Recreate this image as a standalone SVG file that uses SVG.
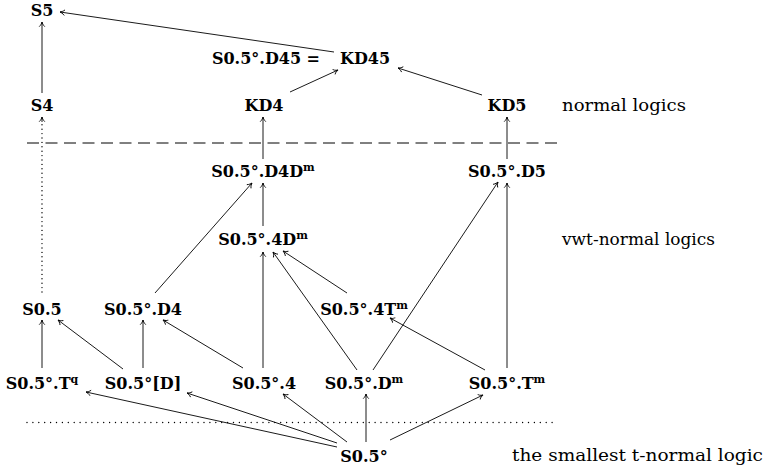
<svg xmlns="http://www.w3.org/2000/svg" width="767" height="471" viewBox="0 0 767 471">
<defs>
<marker id="ah" markerUnits="userSpaceOnUse" markerWidth="10" markerHeight="10" viewBox="-6 -5 8 10" refX="0" refY="0" orient="auto">
<path d="M-4.4,-2.5 C-3.1,-1.1 -1.2,-0.3 0,0 C-1.2,0.3 -3.1,1.1 -4.4,2.5" fill="none" stroke="#000" stroke-width="0.9" stroke-linecap="round"/>
</marker>
<style>
.n{font-family:"DejaVu Serif",serif;font-weight:bold;font-size:16px;fill:#000;text-anchor:middle}
.l{font-family:"DejaVu Serif",serif;font-size:17px;fill:#000}
.sup{font-size:11px}
.e{stroke:#000;stroke-width:0.9;fill:none;marker-end:url(#ah)}
.dot{stroke:#000;stroke-width:1.4;fill:none;stroke-linecap:round}
</style>
</defs>
<rect width="767" height="471" fill="#fff"/>

<g id="separators">
<line x1="27" y1="143" x2="562" y2="143" stroke="#000" stroke-width="1" stroke-dasharray="12 6.5"/>
<line x1="27" y1="422.5" x2="558" y2="422.5" class="dot" stroke-dasharray="0 5.9"/>
</g>

<g id="connectors">
<line class="e" x1="42" y1="93" x2="42" y2="22"/>
<line class="e" x1="334" y1="52" x2="60" y2="12"/>
<line class="e" x1="290" y1="92" x2="338" y2="70"/>
<line class="e" x1="482" y1="95" x2="398" y2="68"/>
<line class="e" x1="263" y1="159" x2="263" y2="117"/>
<line class="e" x1="507" y1="159" x2="507" y2="117"/>
<line class="dot" x1="42" y1="292" x2="42" y2="124" stroke-dasharray="0 4.4"/>
<line class="e" x1="42" y1="122" x2="42" y2="117"/>
<line class="e" x1="263" y1="226" x2="263" y2="183"/>
<line class="e" x1="155" y1="293" x2="252" y2="183"/>
<line class="e" x1="357" y1="370" x2="273" y2="252"/>
<line class="e" x1="347" y1="293" x2="283" y2="251"/>
<line class="e" x1="263" y1="368" x2="263" y2="252"/>
<line class="e" x1="373" y1="370" x2="498" y2="182"/>
<line class="e" x1="507" y1="368" x2="507" y2="183"/>
<line class="e" x1="485" y1="370" x2="390" y2="318"/>
<line class="e" x1="42" y1="368" x2="42" y2="320"/>
<line class="e" x1="123" y1="369" x2="58" y2="320"/>
<line class="e" x1="143" y1="368" x2="143" y2="320"/>
<line class="e" x1="243" y1="368" x2="163" y2="320"/>
<line class="e" x1="337" y1="447" x2="86" y2="392"/>
<line class="e" x1="337" y1="443" x2="187" y2="393"/>
<line class="e" x1="347" y1="442" x2="283" y2="394"/>
<line class="e" x1="366" y1="442" x2="366" y2="394"/>
<line class="e" x1="390" y1="440" x2="483" y2="395"/>
</g>

<g id="S5"><text class="n" x="42" y="16">S5</text></g>
<g id="KD45">
<text class="n" x="320" y="64" style="text-anchor:end">S0.5°.D45 =</text>
<text class="n" x="365" y="64">KD45</text>
</g>
<g id="S4"><text class="n" x="42" y="111">S4</text></g>
<g id="KD4"><text class="n" x="264" y="111">KD4</text></g>
<g id="KD5"><text class="n" x="507" y="111">KD5</text></g>
<g id="label-normal"><text class="l" x="562" y="111" textLength="124" lengthAdjust="spacingAndGlyphs">normal logics</text></g>

<g id="S05D4Dm"><text class="n" x="263" y="176.5">S0.5°.D4D<tspan class="sup" dy="-6">m</tspan></text></g>
<g id="S05D5"><text class="n" x="507" y="176.5">S0.5°.D5</text></g>
<g id="S054Dm"><text class="n" x="263" y="245">S0.5°.4D<tspan class="sup" dy="-6">m</tspan></text></g>
<g id="label-vwt"><text class="l" x="562" y="245" textLength="153" lengthAdjust="spacingAndGlyphs">vwt-normal logics</text></g>

<g id="S05"><text class="n" x="42" y="315">S0.5</text></g>
<g id="S05D4"><text class="n" x="143" y="315">S0.5°.D4</text></g>
<g id="S054Tm"><text class="n" x="364" y="315">S0.5°.4T<tspan class="sup" dy="-6">m</tspan></text></g>

<g id="S05Tq"><text class="n" x="42" y="389">S0.5°.T<tspan class="sup" dy="-6">q</tspan></text></g>
<g id="S05bD"><text class="n" x="143" y="389">S0.5°[D]</text></g>
<g id="S054"><text class="n" x="264" y="389">S0.5°.4</text></g>
<g id="S05Dm"><text class="n" x="364" y="389">S0.5°.D<tspan class="sup" dy="-6">m</tspan></text></g>
<g id="S05Tm"><text class="n" x="507" y="389">S0.5°.T<tspan class="sup" dy="-6">m</tspan></text></g>

<g id="S05circ"><text class="n" x="364" y="462">S0.5°</text></g>
<g id="label-smallest"><text class="l" x="512" y="461" textLength="251" lengthAdjust="spacingAndGlyphs">the smallest t-normal logic</text></g>
</svg>
